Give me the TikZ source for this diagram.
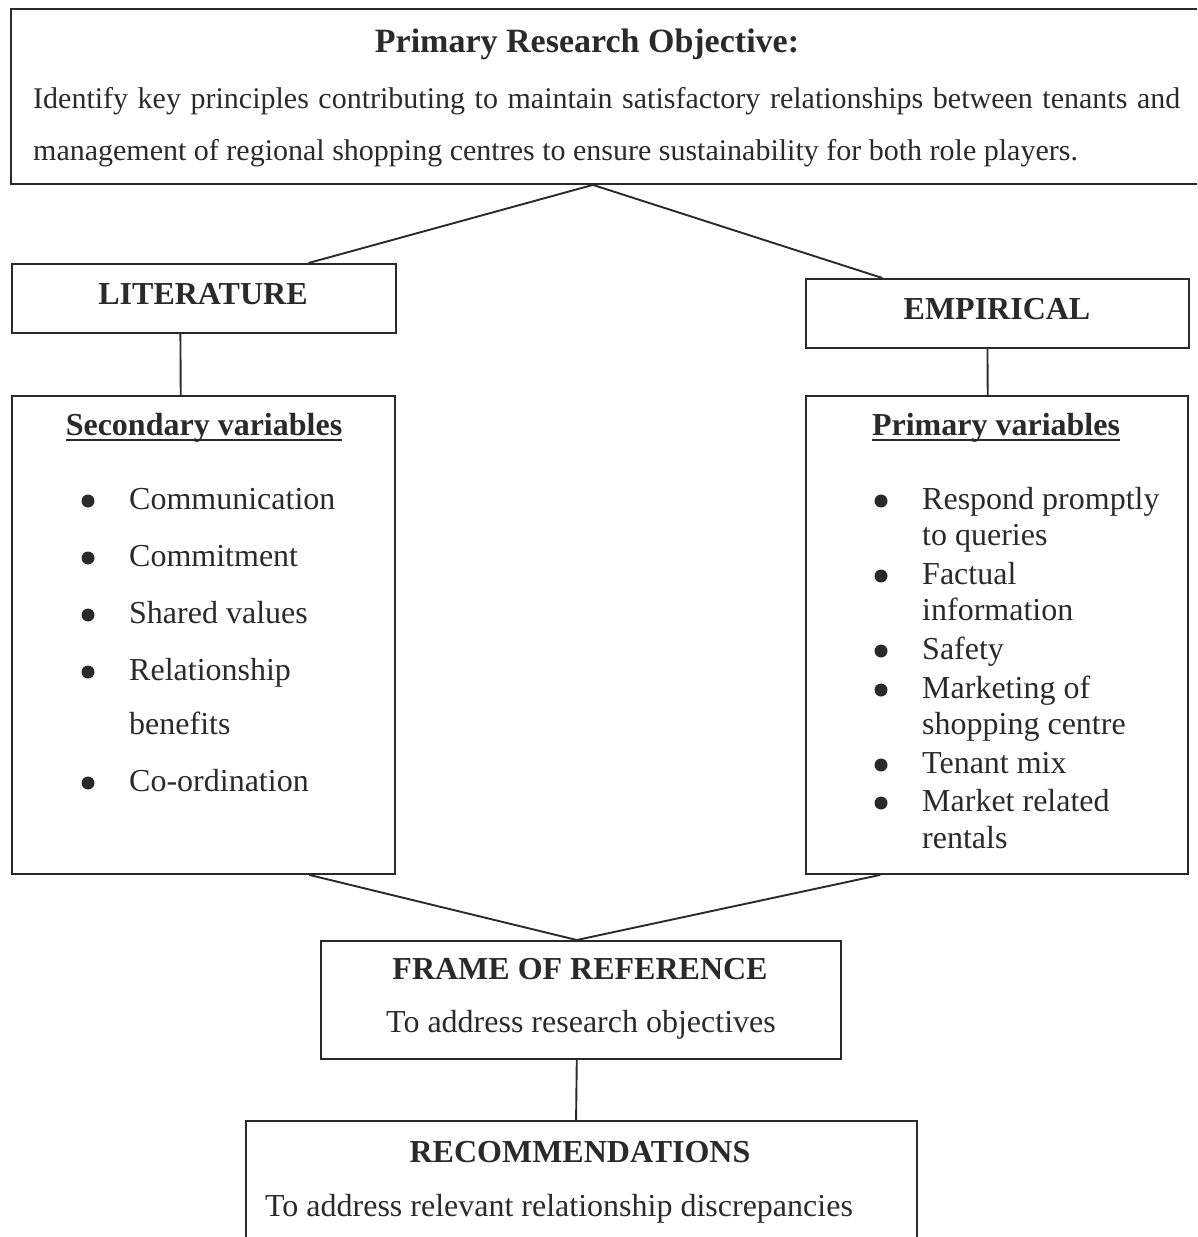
\documentclass[tikz,border=0pt]{standalone}
\usepackage{fontspec}
\setmainfont{Liberation Serif}
\usetikzlibrary{calc}
\definecolor{ink}{HTML}{2A2A2A}
\begin{document}
\begin{tikzpicture}[x=1pt,y=-1pt,
  box/.style={draw=ink, line width=1.9pt, inner sep=0pt, anchor=north west},
  link/.style={draw=ink, line width=1.9pt},
  txt/.style={inner sep=0pt, text=ink, font=\fontsize{32}{38}\selectfont},
  hd/.style={txt, anchor=base, font=\fontsize{32}{38}\selectfont\bfseries},
  item/.style={txt, anchor=base west},
  dot/.style={circle, fill=ink, inner sep=0pt, minimum size=13pt}]
\useasboundingbox (0,0) rectangle (1197,1237);
\clip (0,0) rectangle (1197,1237);

% boxes
\node[box, minimum width=1195pt, minimum height=175pt] (obj)   at (10,8) {};
\node[box, minimum width=384pt,  minimum height=69pt]  (lit)   at (11,263) {};
\node[box, minimum width=383pt,  minimum height=69pt]  (emp)   at (805,278) {};
\node[box, minimum width=383pt,  minimum height=478pt] (sec)   at (11,395) {};
\node[box, minimum width=382pt,  minimum height=478pt] (pri)   at (805,395) {};
\node[box, minimum width=520pt,  minimum height=118pt] (frame) at (320,940) {};
\node[box, minimum width=671pt,  minimum height=140pt] (rec)   at (245,1120) {};

% connectors
\coordinate (objfoot) at ($(obj.south west)!0.487!(obj.south east)$);
\coordinate (frtop)   at ($(frame.north west)!0.492!(frame.north east)$);
\draw[link] (objfoot) -- ($(lit.north west)!0.771!(lit.north east)$);
\draw[link] (objfoot) -- ($(emp.north west)!0.201!(emp.north east)$);
\draw[link] ($(lit.south west)!0.439!(lit.south east)$) -- ($(sec.north west)!0.441!(sec.north east)$);
\draw[link] ($(emp.south west)!0.474!(emp.south east)$) -- ($(pri.north west)!0.476!(pri.north east)$);
\draw[link] ($(sec.south west)!0.775!(sec.south east)$) -- (frtop);
\draw[link] ($(pri.south west)!0.196!(pri.south east)$) -- (frtop);
\draw[link] ($(frame.south west)!0.492!(frame.south east)$) -- ($(rec.north west)!0.492!(rec.north east)$);

% objective
\node[txt, anchor=base, font=\fontsize{34}{40}\selectfont\bfseries] (objt) at (587,52) {Primary Research Objective:};
\node[txt, anchor=base west, font=\fontsize{30}{36}\selectfont] (obj1) at (33,108)
  {\makebox[1147pt][s]{Identify key principles contributing to maintain satisfactory relationships between tenants and}};
\node[txt, anchor=base west, font=\fontsize{30}{36}\selectfont] (obj2) at (33,160)
  {management of regional shopping centres to ensure sustainability for both role players.};

% headings
\node[hd] (litt) at (203,304) {LITERATURE};
\node[hd] (empt) at (997,319) {EMPIRICAL};
\node[hd] (sect) at (204,435) {Secondary variables};
\node[hd] (prit) at (996,435) {Primary variables};
\draw[ink, line width=1.8pt] ([yshift=-5pt]sect.base west) -- ([yshift=-5pt]sect.base east);
\draw[ink, line width=1.8pt] ([yshift=-5pt]prit.base west) -- ([yshift=-5pt]prit.base east);

% secondary variables
\node[dot] (sb1) at (88,501) {};
\node[item] (s1) at (129,509) {Communication};
\node[dot] (sb2) at (88,558) {};
\node[item] (s2) at (129,566) {Commitment};
\node[dot] (sb3) at (88,615) {};
\node[item] (s3) at (129,623) {Shared values};
\node[dot] (sb4) at (88,672) {};
\node[item] (s4) at (129,680) {Relationship};
\node[item] (s4b) at (129,734) {benefits};
\node[dot] (sb5) at (88,783) {};
\node[item] (s5) at (129,791) {Co-ordination};

% primary variables
\node[dot] (pb1) at (881,501) {};
\node[item] (p1) at (922,509) {Respond promptly};
\node[item] (p1b) at (922,545) {to queries};
\node[dot] (pb2) at (881,576) {};
\node[item] (p2) at (922,584) {Factual};
\node[item] (p2b) at (922,620) {information};
\node[dot] (pb3) at (881,651) {};
\node[item] (p3) at (922,659) {Safety};
\node[dot] (pb4) at (881,690) {};
\node[item] (p4) at (922,698) {Marketing of};
\node[item] (p4b) at (922,734) {shopping centre};
\node[dot] (pb5) at (881,765) {};
\node[item] (p5) at (922,773) {Tenant mix};
\node[dot] (pb6) at (881,803) {};
\node[item] (p6) at (922,811) {Market related};
\node[item] (p6b) at (922,848) {rentals};

% frame of reference and recommendations
\node[hd] (frt) at (580,979) {FRAME OF REFERENCE};
\node[txt, anchor=base] (frs) at (581,1032) {To address research objectives};
\node[hd] (rect) at (580,1162) {RECOMMENDATIONS};
\node[txt, anchor=base] (recs) at (559,1216) {To address relevant relationship discrepancies};
\end{tikzpicture}
\end{document}
